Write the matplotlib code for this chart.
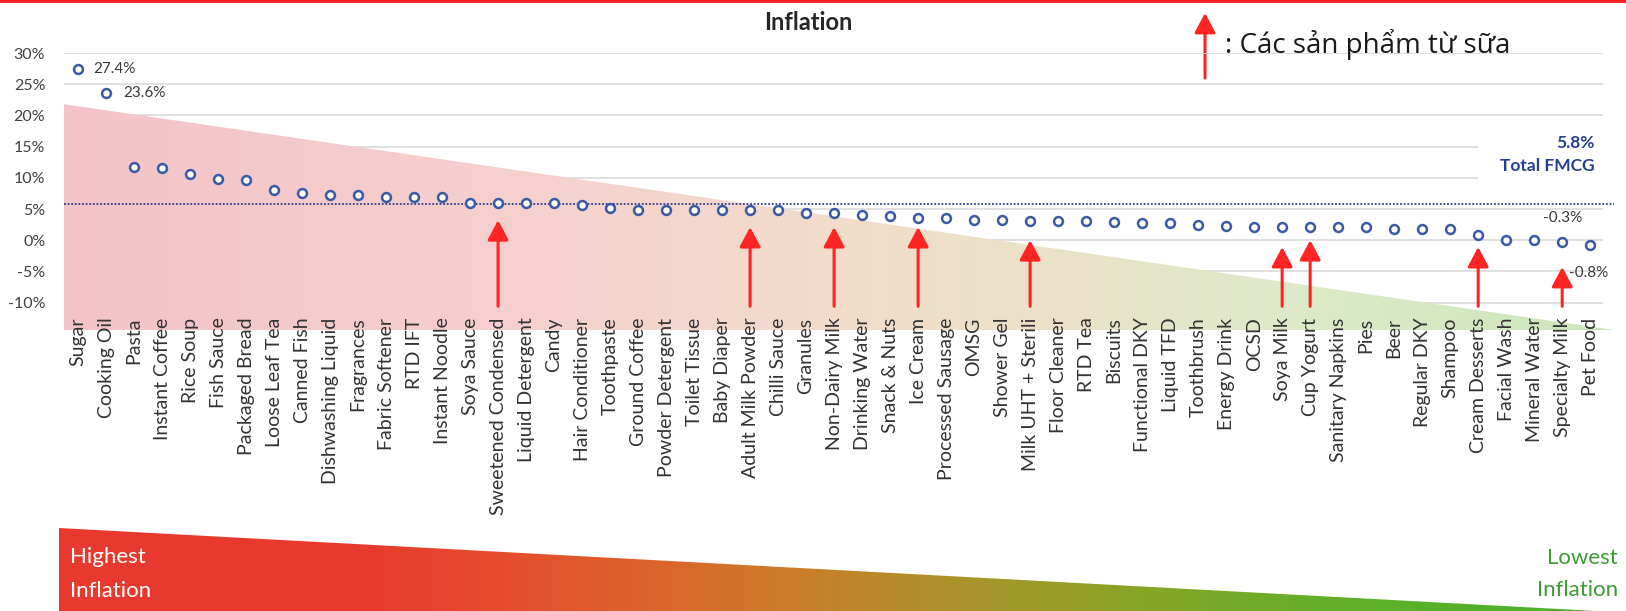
import numpy as np
import matplotlib
matplotlib.use("Agg")
import matplotlib.pyplot as plt
from matplotlib.colors import LinearSegmentedColormap
from matplotlib.patches import Polygon, Rectangle, FancyArrowPatch

# ---------------- data ----------------
categories = [
    "Sugar", "Cooking Oil", "Pasta", "Instant Coffee", "Rice Soup", "Fish Sauce",
    "Packaged Bread", "Loose Leaf Tea", "Canned Fish", "Dishwashing Liquid",
    "Fragrances", "Fabric Softener", "RTD IFT", "Instant Noodle", "Soya Sauce",
    "Sweetened Condensed", "Liquid Detergent", "Candy", "Hair Conditioner",
    "Toothpaste", "Ground Coffee", "Powder Detergent", "Toilet Tissue",
    "Baby Diaper", "Adult Milk Powder", "Chilli Sauce", "Granules",
    "Non-Dairy Milk", "Drinking Water", "Snack & Nuts", "Ice Cream",
    "Processed Sausage", "OMSG", "Shower Gel", "Milk UHT + Sterili",
    "Floor Cleaner", "RTD Tea", "Biscuits", "Functional DKY", "Liquid TFD",
    "Toothbrush", "Energy Drink", "OCSD", "Soya Milk", "Cup Yogurt",
    "Sanitary Napkins", "Pies", "Beer", "Regular DKY", "Shampoo",
    "Cream Desserts", "Facial Wash", "Mineral Water", "Specialty Milk", "Pet Food",
]
inflation = [
    27.4, 23.6, 11.7, 11.5, 10.6, 9.8,
    9.7, 8.0, 7.6, 7.3,
    7.3, 6.9, 6.9, 7.0, 5.9,
    5.9, 5.9, 5.9, 5.6,
    5.2, 4.9, 4.9, 4.9,
    4.8, 4.8, 4.8, 4.4,
    4.4, 4.0, 3.8, 3.5,
    3.5, 3.3, 3.2, 3.0,
    3.0, 3.0, 2.9, 2.75, 2.75,
    2.4, 2.2, 2.1, 2.1, 2.1,
    2.1, 2.1, 1.8, 1.8, 1.85,
    0.8, 0.1, 0.0, -0.3, -0.8,
]
total_fmcg = 5.8
total_name = "Total FMCG"
dairy_products = [
    "Sweetened Condensed", "Adult Milk Powder", "Non-Dairy Milk", "Ice Cream",
    "Milk UHT + Sterili", "Soya Milk", "Cup Yogurt", "Cream Desserts",
    "Specialty Milk",
]
value_labelled = ["Sugar", "Cooking Oil", "Specialty Milk", "Pet Food"]
y_ticks = [-10, -5, 0, 5, 10, 15, 20, 25, 30]
title = "Inflation"
legend_text = ": Các sản phẩm từ sữa"
high_lines = ["Highest", "Inflation"]
low_lines = ["Lowest", "Inflation"]

# ---------------- figure ----------------
W, H = 1626, 611
fig = plt.figure(figsize=(W / 100, H / 100), dpi=100)
fig.patch.set_facecolor("white")
FONT = ["Lato", "DejaVu Sans"]
RED = "#ff2424"


def fx(px):
    return px / W


def fy(py):
    return 1 - py / H


# decoration layer in pixel units (top rule, bottom banner)
deco = fig.add_axes([0, 0, 1, 1], zorder=0)
deco.axis("off")
deco.add_patch(Rectangle((0, 0), W, 2.5, facecolor=RED, edgecolor="none"))

banner_cmap = LinearSegmentedColormap.from_list(
    "banner",
    [(0.0, "#e8392f"), (0.2, "#e83a2f"), (0.3, "#e4502d"), (0.4, "#da672c"),
     (0.48, "#c97f29"), (0.6, "#a7962a"), (0.7, "#88a526"), (0.85, "#5eb028"),
     (1.0, "#49b22a")])
banner = Polygon([(59, 528), (1596, 611), (59, 611)], closed=True,
                 facecolor="none", edgecolor="none")
deco.add_patch(banner)
bim = deco.imshow(np.linspace(0, 1, 512).reshape(1, -1), cmap=banner_cmap,
                  extent=(59, 1596, 611, 528), aspect="auto",
                  interpolation="bilinear")
bim.set_clip_path(banner)
deco.set_xlim(0, W)
deco.set_ylim(H, 0)

# main plot
left, right, top, bottom = 64, 1614, 53.1, 330
ax = fig.add_axes([fx(left), fy(bottom), (right - left) / W, (bottom - top) / H],
                  zorder=1)
ax.patch.set_alpha(0)
for s in ax.spines.values():
    s.set_visible(False)

x = np.arange(len(categories))
values = np.array(inflation)
xmin, xmax, ymin, ymax = -0.5, 54.85, -14.4, 30

# gradient wedge behind the points
wedge_cmap = LinearSegmentedColormap.from_list(
    "wedge",
    [(0.0, "#f3c3c9"), (0.3, "#f5d1ce"), (0.5, "#f2dccb"), (0.65, "#e9e3c8"),
     (0.8, "#ddeac8"), (1.0, "#cbe6bb")])
wedge = Polygon([(xmin, 21.8), (xmax, ymin), (xmin, ymin)], closed=True,
                facecolor="none", edgecolor="none")
ax.add_patch(wedge)
wim = ax.imshow(np.linspace(0, 1, 512).reshape(1, -1), cmap=wedge_cmap,
                extent=(xmin, xmax, ymin, 21.8), aspect="auto",
                interpolation="bilinear", zorder=1)
wim.set_clip_path(wedge)

ax.set_xlim(xmin, xmax)
ax.set_ylim(ymin, ymax)

# horizontal grid
ax.hlines(y_ticks, xmin, 54.46, color="#dadada", lw=1.2, zorder=0.5)
# white backing behind the FMCG label
ax.add_patch(Rectangle((50.0, 9.2), 4.6, 7.0, facecolor="white",
                       edgecolor="none", zorder=0.8))

# total FMCG reference line
ax.axhline(total_fmcg, color="#2f3f8c", lw=1.3, ls=(0, (1, 1)), zorder=2)

# dairy arrows
arrow_gap = {"Sweetened Condensed": 2.7, "Adult Milk Powder": 2.7,
             "Non-Dairy Milk": 2.3, "Ice Cream": 1.4, "Milk UHT + Sterili": 3.0,
             "Soya Milk": 3.2, "Cup Yogurt": 2.1, "Cream Desserts": 1.9,
             "Specialty Milk": 4.0}
arrow_style = "-|>,head_length=0.6,head_width=0.32"
for name in dairy_products:
    i = categories.index(name)
    ax.annotate("", xy=(i, values[i] - arrow_gap[name]), xytext=(i, -10.6),
                arrowprops=dict(arrowstyle=arrow_style, color=RED, lw=2.2,
                                mutation_scale=20, shrinkA=0, shrinkB=0),
                zorder=3)

# points
ax.plot(x, values, "o", ms=6.4, mfc="white", mec="#3a5aa5", mew=1.8,
        zorder=4, clip_on=False)

# value labels
label_style = {
    "Sugar": dict(off=(15, 0), ha="left", va="center"),
    "Cooking Oil": dict(off=(17, 0), ha="left", va="center"),
    "Specialty Milk": dict(off=(0, 24), ha="center", va="center"),
    "Pet Food": dict(off=(-21, -28), ha="left", va="center"),
}
for name in value_labelled:
    i = categories.index(name)
    st = label_style[name]
    ax.annotate(f"{values[i]:.1f}%", xy=(i, values[i]), xytext=st["off"],
                textcoords="offset pixels", ha=st["ha"], va=st["va"],
                fontsize=11, color="#3a3a3a", family=FONT, zorder=5,
                annotation_clip=False)

# axes ticks
ax.set_xticks(x)
ax.set_xticklabels(categories, rotation=90, fontsize=14, color="#333333",
                   family=FONT)
ax.tick_params(axis="x", length=0, pad=-9.0)
ax.set_yticks(y_ticks)
ax.set_yticklabels([f"{v}%" for v in y_ticks], fontsize=11.5, color="#404040",
                   family=FONT)
ax.tick_params(axis="y", length=0, pad=13.5)

# title
fig.text(fx(808), fy(23), title, ha="center", va="center", fontsize=17,
         fontweight="bold", color="#262626", family=FONT)

# FMCG label
fig.text(fx(1595), fy(143), f"{total_fmcg:.1f}%", ha="right", va="center",
         fontsize=12.5, fontweight="bold", color="#25408f", family=FONT)
fig.text(fx(1595), fy(166), total_name, ha="right", va="center",
         fontsize=12.5, fontweight="bold", color="#25408f", family=FONT)

# legend for the arrows
fig.add_artist(FancyArrowPatch(
    (fx(1205), fy(78)), (fx(1205), fy(13)), transform=fig.transFigure,
    arrowstyle=arrow_style, color=RED, lw=2.2,
    mutation_scale=20, shrinkA=0, shrinkB=0))
fig.text(fx(1225), fy(44), legend_text, ha="left", va="center", fontsize=20,
         color="#1a1a1a", family=["Open Sans", "DejaVu Sans"])

# banner captions
fig.text(fx(70), fy(557), high_lines[0], ha="left", va="center", fontsize=16,
         color="white", family=FONT)
fig.text(fx(70), fy(591), high_lines[1], ha="left", va="center", fontsize=16,
         color="white", family=FONT)
fig.text(fx(1618), fy(558), low_lines[0], ha="right", va="center", fontsize=16,
         color="#3d9a35", family=FONT)
fig.text(fx(1618), fy(590), low_lines[1], ha="right", va="center", fontsize=16,
         color="#3d9a35", family=FONT)

fig.savefig("out.png", dpi=100, facecolor="white")
